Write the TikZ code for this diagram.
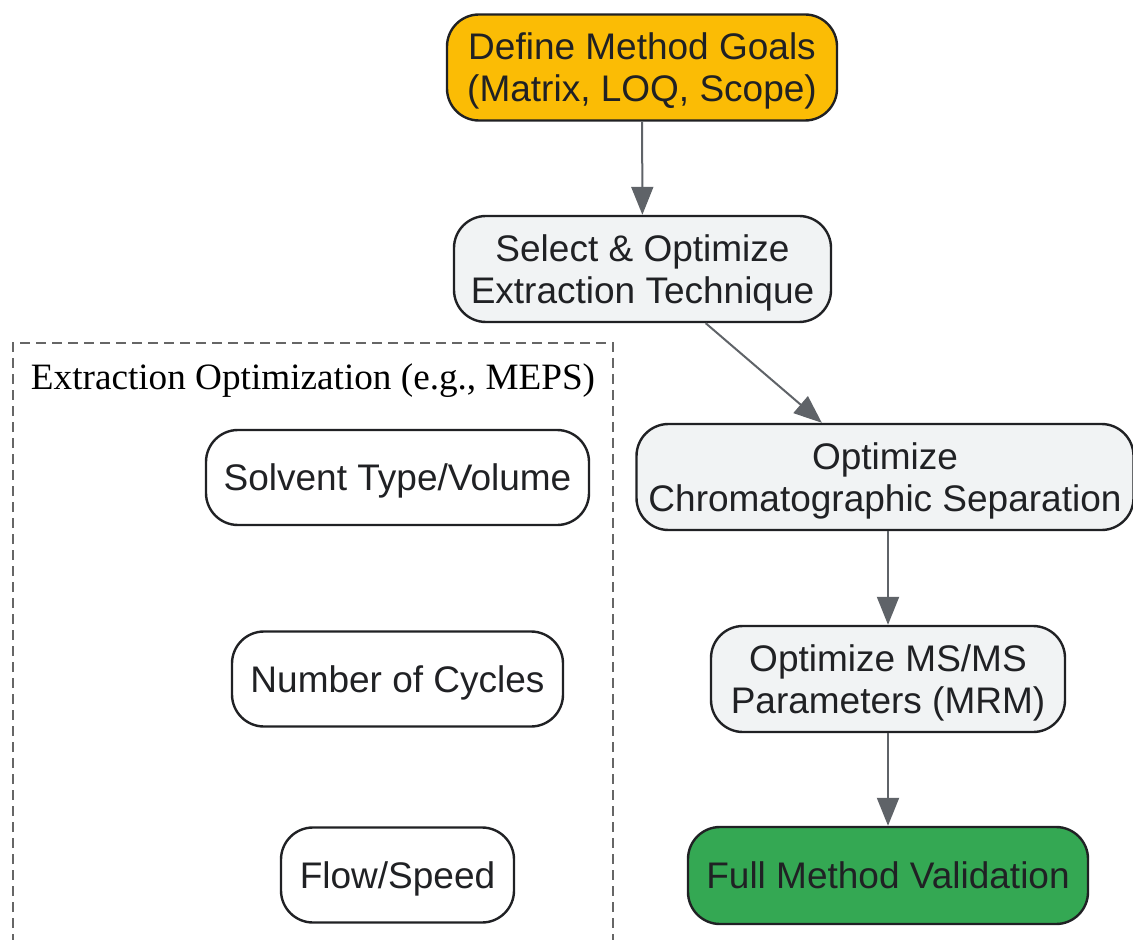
\documentclass[tikz,border=0pt]{standalone}
\usepackage{fontspec}
\setmainfont{Liberation Sans}
\newfontfamily\serifttl{Liberation Serif}
\usetikzlibrary{arrows.meta}
\definecolor{goalyellow}{RGB}{251,188,5}
\definecolor{stepgray}{RGB}{241,243,244}
\definecolor{validgreen}{RGB}{52,168,83}
\definecolor{inkdark}{RGB}{32,33,36}
\definecolor{arrowgray}{RGB}{95,99,104}
\definecolor{dashgray}{RGB}{102,102,102}

\begin{document}
\begin{tikzpicture}[x=0.5pt, y=-0.5pt,
    box/.style={draw=inkdark, line width=1.2pt, rounded corners=16pt, align=center,
        text=inkdark, font=\fontsize{18.5}{21}\selectfont, inner sep=0pt, text depth=0pt},
    flowbox/.style={box, fill=stepgray, minimum height=53pt},
    subbox/.style={box, fill=white, minimum height=47.5pt},
    link/.style={draw=arrowgray, line width=1pt, -{Triangle[length=14pt, width=11pt]}}]
        \useasboundingbox (0,0) rectangle (1133,940);

        % Main flow
        \node[flowbox, fill=goalyellow, minimum width=195pt] (goals) at (642,67.5) {Define Method Goals\\(Matrix, LOQ, Scope)};
        \node[flowbox, minimum width=188.5pt] (select) at (642.5,269) {Select \& Optimize\\Extraction Technique};
        \node[flowbox, minimum width=248.5pt] (chrom) at (885,477) {Optimize\\Chromatographic Separation};
        \node[flowbox, minimum width=177pt] (msms) at (888,679) {Optimize MS/MS\\Parameters (MRM)};
        \node[flowbox, fill=validgreen, minimum width=200pt, minimum height=48.5pt, text depth=-2pt] (valid) at (888,875.5) {Full Method Validation};

        % Extraction group
        \draw[dashgray, line width=1.1pt, dash pattern=on 5pt off 3pt] (13,960) -- (13,343) -- (613,343) -- (613,960);
        \node[font=\serifttl\fontsize{18.6}{21}\selectfont, text=black] (grouplbl) at (313,381) {Extraction Optimization (e.g., MEPS)};
        \node[subbox, minimum width=191.5pt] (solvent) at (397.5,477.5) {Solvent Type/Volume};
        \node[subbox, minimum width=165.5pt] (cycles) at (397.5,679) {Number of Cycles};
        \node[subbox, minimum width=116.5pt] (flow) at (397.5,875) {Flow/Speed};

        % Arrows
        \draw[link] (goals) -- (select);
        \draw[link] (select) -- (chrom);
        \draw[link] (chrom.south -| msms) -- (msms);
        \draw[link] (msms) -- (valid);
\end{tikzpicture}
\end{document}
